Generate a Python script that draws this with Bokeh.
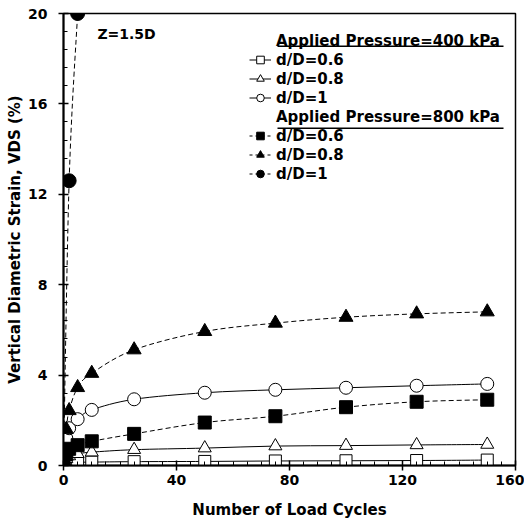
import numpy as np
from bokeh.plotting import figure
from bokeh.models import (Range1d, SingleIntervalTicker, Legend, LegendItem,
                          BoxAnnotation, Label)
from bokeh.embed import file_html
from bokeh.resources import INLINE

# ---------------- data ----------------
cycles = [0, 1, 2, 5, 10, 25, 50, 75, 100, 125, 150]
vds_400_d06 = [0, 0.10, 0.12, 0.14, 0.15, 0.17, 0.18, 0.20, 0.21, 0.22, 0.24]
vds_400_d08 = [0, 0.30, 0.42, 0.52, 0.59, 0.70, 0.77, 0.86, 0.88, 0.91, 0.93]
vds_400_d10 = [0, 1.20, 1.65, 2.05, 2.46, 2.93, 3.22, 3.35, 3.44, 3.53, 3.61]
vds_800_d06 = [0, 0.50, 0.74, 0.90, 1.07, 1.40, 1.90, 2.18, 2.58, 2.82, 2.91]
vds_800_d08 = [0, 1.60, 2.43, 3.45, 4.08, 5.12, 5.93, 6.30, 6.56, 6.71, 6.80]
cycles_800_d10 = [0, 2, 5]
vds_800_d10 = [0, 12.6, 20.0]

x_tick_values = [0, 40, 80, 120, 160]
y_tick_values = [0, 4, 8, 12, 16, 20]

header_400 = "Applied Pressure=400 kPa"
header_800 = "Applied Pressure=800 kPa"
labels = ["d/D=0.6", "d/D=0.8", "d/D=1"]

FONT = "DejaVu Sans"
NAN = float("nan")


def smooth_segments(x, y):
    x = np.asarray(x, float)
    y = np.asarray(y, float)
    n = len(x)
    xp = np.concatenate([[x[0]], x, [x[-1]]])
    yp = np.concatenate([[y[0]], y, [y[-1]]])
    return dict(
        x0=x[:-1], y0=y[:-1], x1=x[1:], y1=y[1:],
        cx0=x[:-1] + (xp[2:n + 1] - xp[0:n - 1]) / 6.0,
        cy0=y[:-1] + (yp[2:n + 1] - yp[0:n - 1]) / 6.0,
        cx1=x[1:] - (xp[3:n + 2] - xp[1:n]) / 6.0,
        cy1=y[1:] - (yp[3:n + 2] - yp[1:n]) / 6.0,
    )


p = figure(width=524, height=521, output_backend="svg", toolbar_location=None,
           x_range=Range1d(0, 160), y_range=Range1d(0, 20),
           min_border_left=63, min_border_right=9, min_border_top=13,
           min_border_bottom=56)
p.grid.visible = False
p.outline_line_color = "black"
p.outline_line_width = 1.5
p.background_fill_color = "white"
p.border_fill_color = "white"

p.xaxis.ticker = SingleIntervalTicker(interval=40, num_minor_ticks=8)
p.yaxis.ticker = SingleIntervalTicker(interval=4, num_minor_ticks=5)
for ax in (p.xaxis, p.yaxis):
    ax.axis_line_width = 2
    ax.axis_line_color = "black"
    ax.major_tick_in = 5
    ax.major_tick_out = 5
    ax.minor_tick_in = 4
    ax.minor_tick_out = 0
    ax.major_tick_line_width = 1.5
    ax.minor_tick_line_width = 1
    ax.major_label_text_font = FONT
    ax.major_label_text_font_style = "bold"
    ax.major_label_text_font_size = "14px"
    ax.major_label_text_color = "black"
    ax.axis_label_text_font = FONT
    ax.axis_label_text_font_style = "bold"
    ax.axis_label_text_font_size = "15px"
    ax.axis_label_text_color = "black"
p.xaxis.axis_label = "Number of Load Cycles"
p.yaxis.axis_label = "Vertical Diametric Strain, VDS (%)"
p.xaxis.major_label_standoff = 4
p.xaxis.axis_label_standoff = 13
p.yaxis.major_label_standoff = 11
p.yaxis.axis_label_standoff = 1

series = [
    (cycles, vds_400_d06, "square", "white", 12, None),
    (cycles, vds_400_d08, "triangle", "white", 13, None),
    (cycles, vds_400_d10, "circle", "white", 13, None),
    (cycles, vds_800_d06, "square", "black", 13, "5 3"),
    (cycles, vds_800_d08, "triangle", "black", 14, "5 3"),
    (cycles_800_d10, vds_800_d10, "circle", "black", 14, "5 3"),
]

legend_entries = []
for xs, ys, mk, fill, size, dash in series:
    seg = smooth_segments(xs, ys)
    kw = dict(line_color="black", line_width=1)
    if dash:
        kw["line_dash"] = dash
    p.bezier(**seg, **kw)
    legend_entries.append((mk, fill, dash))

for xs, ys, mk, fill, size, dash in series:
    p.scatter(x=xs, y=ys, marker=mk, size=size, fill_color=fill,
              line_color="black", line_width=1)

# legend (renderers with a single NaN point, used only for legend glyphs)
blank = p.scatter(x=[NAN], y=[NAN], marker="circle", alpha=0)
items = []
for group, header in ((0, header_400), (1, header_800)):
    items.append(LegendItem(label=header, renderers=[blank]))
    for k in range(3):
        mk, fill, dash = legend_entries[group * 3 + k]
        lkw = dict(line_color="black", line_width=1)
        if dash:
            lkw["line_dash"] = "3 3"
        lr = p.line(x=[NAN], y=[NAN], **lkw)
        sr = p.scatter(x=[NAN], y=[NAN], marker=mk, fill_color=fill,
                       line_color="black", line_width=1)
        items.append(LegendItem(label=labels[k], renderers=[lr, sr]))

legend = Legend(items=items, location=(186, 282), glyph_width=22,
                glyph_height=19, label_height=19, label_standoff=5,
                padding=0, margin=0, spacing=0, border_line_alpha=0,
                background_fill_alpha=0, label_text_font=FONT,
                label_text_font_style="bold", label_text_font_size="15px",
                label_text_color="black")
p.add_layout(legend)

for ytop in (420.0, 338.0):
    p.add_layout(BoxAnnotation(left=214, right=440, top=ytop, bottom=ytop - 1.5,
                               left_units="screen", right_units="screen",
                               top_units="screen", bottom_units="screen",
                               fill_color="black", fill_alpha=1,
                               line_alpha=0))

p.add_layout(Label(x=12, y=19.1, text="Z=1.5D", text_font=FONT,
                   text_font_style="bold", text_font_size="14px",
                   text_baseline="middle", text_color="black"))

open("out.html", "w").write(file_html(p, INLINE))
